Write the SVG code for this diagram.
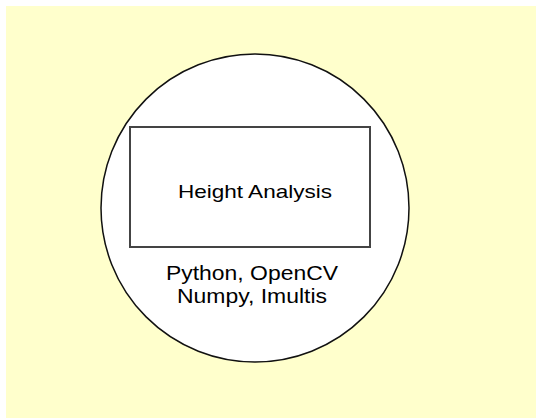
<svg xmlns="http://www.w3.org/2000/svg" width="536" height="418" viewBox="0 0 536 418">
<style>
.t{font-family:"Liberation Sans",Arial,sans-serif;fill:#000;text-anchor:middle}
</style>
<rect x="6" y="6" width="530" height="412" fill="#ffffcc"/>
<g id="circle-node">
<circle cx="255" cy="208" r="154" fill="#fff" stroke="#111" stroke-width="1.5"/>
<text class="t" x="252" y="280" font-size="20" textLength="172" lengthAdjust="spacingAndGlyphs">Python, OpenCV</text>
<text class="t" x="252" y="303" font-size="20" textLength="150" lengthAdjust="spacingAndGlyphs">Numpy, Imultis</text>
</g>
<g id="rect-node">
<rect x="130" y="127" width="240" height="120" fill="#fff" stroke="#444" stroke-width="2"/>
<text class="t" x="255" y="198" font-size="19" textLength="154" lengthAdjust="spacingAndGlyphs">Height Analysis</text>
</g>
<g id="connectors"/>
</svg>
